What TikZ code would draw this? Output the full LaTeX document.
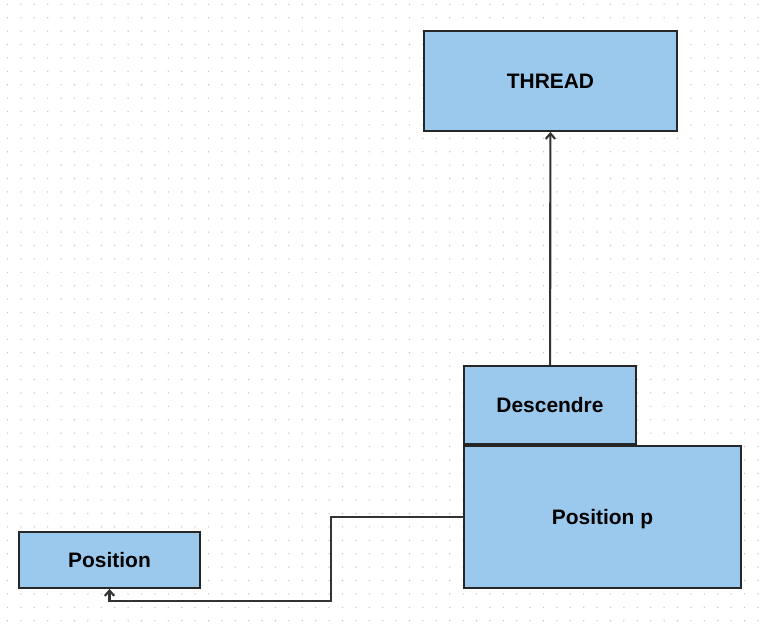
\documentclass[tikz,border=0pt]{standalone}
\usepackage{fontspec}
\setmainfont{Liberation Sans}
\usetikzlibrary{arrows.meta,positioning}
\definecolor{BoxBlue}{HTML}{9BC9EE}
\definecolor{EdgeDark}{HTML}{262626}
\definecolor{LinkGrey}{HTML}{333333}
\definecolor{DotGrey}{HTML}{C8C8C8}
\tikzset{
  cls/.style={rectangle,draw=EdgeDark,fill=BoxBlue,line width=1.4pt,
              text=black,align=center,inner sep=2pt,
              text height=11.5pt,text depth=-1pt,
              font=\fontsize{15.7pt}{18pt}\selectfont\bfseries},
  arr/.style={-{Straight Barb[length=4pt,width=7pt]},line width=1.6pt,LinkGrey}
}

\begin{document}
\begin{tikzpicture}[x=0.75pt,y=-0.75pt]
  \useasboundingbox (0,0) rectangle (765,625);
  % dotted canvas
  \foreach \i in {0,...,56}{
    \foreach \j in {0,...,46}{
      \fill[DotGrey] (7.5+13.4*\i,4.3+13.4*\j) circle (0.6pt);
    }
  }
  \node[cls,minimum width=189.75pt,minimum height=75pt] (thread) at (550.5,81) {THREAD};
  \node[cls,minimum width=129pt,minimum height=58.5pt] (desc) at (550,405) {Descendre};
  \node[cls,minimum width=207.75pt,minimum height=106.5pt,anchor=north west] (posp) at (desc.south west) {Position p};
  \node[cls,minimum width=135.75pt,minimum height=42pt] (pos) at (109.5,560) {Position};
  \coordinate (bend) at (331,601);

  \draw[arr] (desc) -- (thread);
  \draw[arr] (posp.west) -| (bend) -| (pos.south);
\end{tikzpicture}
\end{document}
